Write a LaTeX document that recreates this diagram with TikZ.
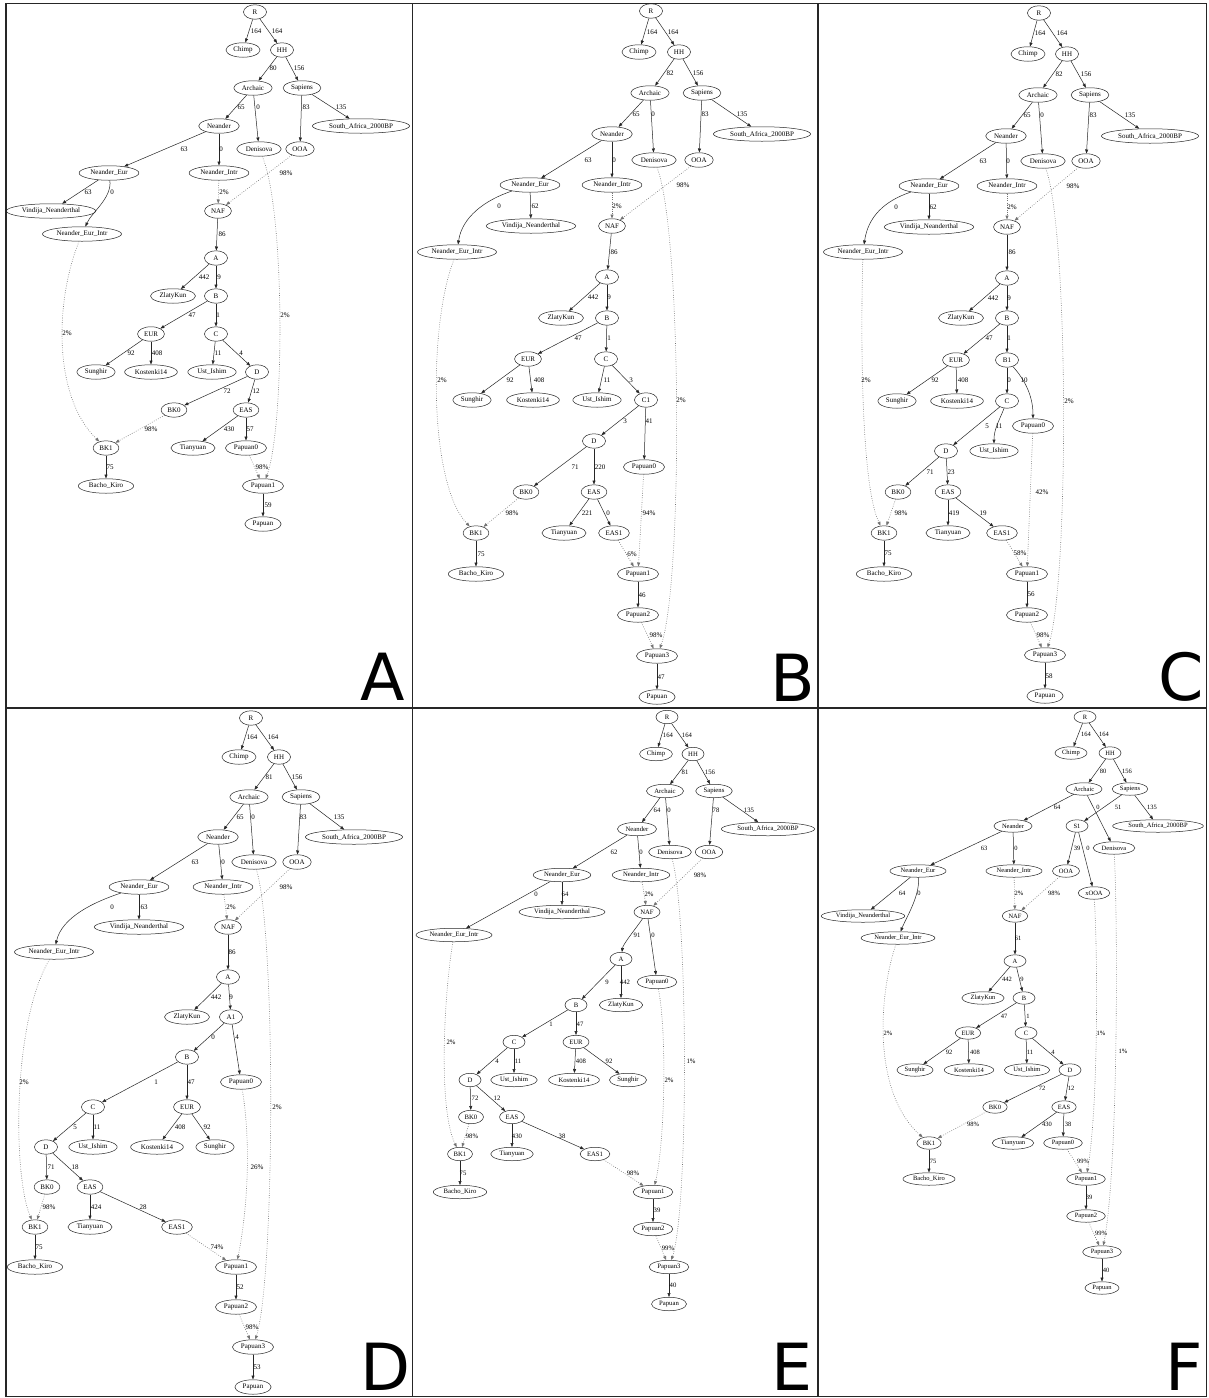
\documentclass[tikz,border=0pt]{standalone}
\usepackage{fontspec}
\setmainfont{Liberation Serif}
\newfontfamily\letfont{DejaVu Sans}
\usetikzlibrary{shapes.geometric,arrows.meta}
\newcommand\ndfont{\fontsize{7}{8}\selectfont}
\newcommand\ndmh{14.5pt}
\newcommand\ndmw{23pt}
\newcommand\gnode[3]{\node[gnd] (#1) at (#2) {#3};}
\newcommand\gedge[4]{\draw[gedg] (#1) -- (#2) node[glbl] at (#3) {#4};}
\newcommand\gdot[4]{\draw[gdt] (#1) -- (#2) node[glbl] at (#3) {#4};}
\newcommand\gcedge[5]{\draw[gedg] (#1) .. controls #5 .. (#2) node[glbl] at (#3) {#4};}
\newcommand\gcdot[5]{\draw[gdt] (#1) .. controls #5 .. (#2) node[glbl] at (#3) {#4};}
\tikzset{
  gnd/.style={draw=black!85, ellipse, line width=0.5pt, minimum width=\ndmw, minimum height=\ndmh,
    inner xsep=2.5pt, inner ysep=0.5pt, font=\ndfont},
  gedg/.style={line width=0.5pt, black!85, -{Triangle[length=4pt,width=3pt]}},
  gdt/.style={line width=0.6pt, black!55, dash pattern=on 0.7pt off 1.6pt, -{Triangle[length=4pt,width=3pt]}},
  glbl/.style={font=\ndfont, inner sep=0pt, text=black},
  frm/.style={line width=1.6pt, black!85},
  plet/.style={font=\letfont\fontsize{65}{66}\selectfont, anchor=base, inner sep=0pt, text depth=0pt, text height=47pt}
}
\begin{document}
\begin{tikzpicture}[x=1pt,y=-1pt]
\fill[white] (0,0) rectangle (1208,1398);
\useasboundingbox (0,0) rectangle (1208,1398);
% frames
\draw[frm] (6,3.5) rectangle (1206.5,1396.5);
\draw[frm] (412.5,3.5) -- (412.5,1396.5);
\draw[frm] (818,3.5) -- (818,1396.5);
\draw[frm] (6,708) -- (1206.5,708);
% panel letters
\node[plet] (LA) at (383,700) {A};
\node[plet] (LB) at (793,701) {B};
\node[plet] (LC) at (1181,700) {C};
\node[plet] (LD) at (386,1390) {D};
\node[plet] (LE) at (792,1390) {E};
\node[plet] (LF) at (1184,1390) {F};

% ================= Panel A =================
\gnode{aR}{255,12}{R}
\gnode{aChimp}{243,50}{Chimp}
\gnode{aHH}{282,50}{HH}
\gnode{aArch}{253,88}{Archaic}
\gnode{aSap}{302,88}{Sapiens}
\gnode{aNea}{219,126}{Neander}
\gnode{aSA}{361,126}{South\_Africa\_2000BP}
\gnode{aDen}{259,149}{Denisova}
\gnode{aOOA}{300,149}{OOA}
\gnode{aNE}{109,173}{Neander\_Eur}
\gnode{aNI}{219,173}{Neander\_Intr}
\gnode{aVin}{51,211}{Vindija\_Neanderthal}
\gnode{aNAF}{218,211}{NAF}
\gnode{aNEI}{82,234}{Neander\_Eur\_Intr}
\gnode{aA}{216,258}{A}
\gnode{aZK}{173,296}{ZlatyKun}
\gnode{aB}{216,296}{B}
\gnode{aEUR}{151,334}{EUR}
\gnode{aC}{216,334}{C}
\gnode{aSun}{96,372}{Sunghir}
\gnode{aKos}{151,372}{Kostenki14}
\gnode{aUst}{212,372}{Ust\_Ishim}
\gnode{aD}{257,372}{D}
\gnode{aBK0}{174,410}{BK0}
\gnode{aEAS}{246,410}{EAS}
\gnode{aBK1}{106,448}{BK1}
\gnode{aTia}{193,448}{Tianyuan}
\gnode{aP0}{246,448}{Papuan0}
\gnode{aBac}{106,486}{Bacho\_Kiro}
\gnode{aP1}{263,486}{Papuan1}
\gnode{aPap}{263,524}{Papuan}
\gedge{aR}{aChimp}{256,31}{164}
\gedge{aR}{aHH}{277,31}{164}
\gedge{aHH}{aArch}{273,68}{80}
\gedge{aHH}{aSap}{299,68}{156}
\gedge{aArch}{aNea}{241,107}{65}
\gedge{aArch}{aDen}{258,107}{0}
\gedge{aSap}{aOOA}{306,107}{83}
\gedge{aSap}{aSA}{341,107}{135}
\gedge{aNea}{aNE}{184,149}{63}
\gedge{aNea}{aNI}{221,149}{0}
\gedge{aNE}{aVin}{88,192}{63}
\gcedge{aNE}{aNEI}{112,192}{0}{+(3,25) and +(10,-22)}
\gdot{aNI}{aNAF}{224,192}{2\%}
\gdot{aOOA}{aNAF}{286,173}{98\%}
\gcdot{aDen}{aP1}{285,315}{2\%}{+(26,60) and +(22,-60)}
\gcdot{aNEI}{aBK1}{67,333}{2\%}{+(-28,70) and +(-52,-50)}
\gedge{aNAF}{aA}{222,234}{86}
\gedge{aA}{aZK}{204,277}{442}
\gedge{aA}{aB}{219,277}{9}
\gedge{aB}{aEUR}{192,315}{47}
\gedge{aB}{aC}{218,315}{1}
\gedge{aEUR}{aSun}{131,353}{92}
\gedge{aEUR}{aKos}{157,353}{408}
\gedge{aC}{aUst}{218,353}{11}
\gedge{aC}{aD}{241,353}{4}
\gedge{aD}{aBK0}{227,391}{72}
\gedge{aD}{aEAS}{256,391}{12}
\gdot{aBK0}{aBK1}{151,429}{98\%}
\gedge{aEAS}{aTia}{229,429}{430}
\gedge{aEAS}{aP0}{250,429}{57}
\gdot{aP0}{aP1}{262,467}{98\%}
\gedge{aBK1}{aBac}{110,467}{75}
\gedge{aP1}{aPap}{268,505}{59}

% ================= Panel B =================
\gnode{bR}{651,11}{R}
\gnode{bChimp}{639,52}{Chimp}
\gnode{bHH}{679,52}{HH}
\gnode{bArch}{650,93}{Archaic}
\gnode{bSap}{702,93}{Sapiens}
\gnode{bNea}{612,134}{Neander}
\gnode{bSA}{762,134}{South\_Africa\_2000BP}
\gnode{bDen}{654,160}{Denisova}
\gnode{bOOA}{699,160}{OOA}
\gnode{bNE}{530,185}{Neander\_Eur}
\gnode{bNI}{612,185}{Neander\_Intr}
\gnode{bVin}{531,226}{Vindija\_Neanderthal}
\gnode{bNAF}{612,226}{NAF}
\gnode{bNEI}{457,252}{Neander\_Eur\_Intr}
\gnode{bA}{607,277}{A}
\gnode{bZK}{561,318}{ZlatyKun}
\gnode{bB}{607,318}{B}
\gnode{bEUR}{528,359}{EUR}
\gnode{bC}{606,359}{C}
\gnode{bSun}{472,400}{Sunghir}
\gnode{bKos}{533,400}{Kostenki14}
\gnode{bUst}{597,400}{Ust\_Ishim}
\gnode{bC1}{646,400}{C1}
\gnode{bD}{594,441}{D}
\gnode{bP0}{644,467}{Papuan0}
\gnode{bBK0}{526,492}{BK0}
\gnode{bEAS}{594,492}{EAS}
\gnode{bBK1}{476,533}{BK1}
\gnode{bTia}{564,533}{Tianyuan}
\gnode{bEAS1}{614,533}{EAS1}
\gnode{bBac}{476,574}{Bacho\_Kiro}
\gnode{bP1}{638,574}{Papuan1}
\gnode{bP2}{638,615}{Papuan2}
\gnode{bP3}{657,656}{Papuan3}
\gnode{bPap}{657,697}{Papuan}
\gedge{bR}{bChimp}{652,32}{164}
\gedge{bR}{bHH}{673,32}{164}
\gedge{bHH}{bArch}{670,73}{82}
\gedge{bHH}{bSap}{698,73}{156}
\gedge{bArch}{bNea}{636,114}{65}
\gedge{bArch}{bDen}{653,114}{0}
\gedge{bSap}{bOOA}{705,114}{83}
\gedge{bSap}{bSA}{742,114}{135}
\gedge{bNea}{bNE}{588,160}{63}
\gedge{bNea}{bNI}{614,160}{0}
\gcedge{bNE}{bNEI}{499,206}{0}{+(-45,15) and +(5,-35)}
\gedge{bNE}{bVin}{535,206}{62}
\gdot{bNI}{bNAF}{617,206}{2\%}
\gdot{bOOA}{bNAF}{683,185}{98\%}
\gcdot{bDen}{bP3}{681,400}{2\%}{+(28,70) and +(26,-70)}
\gcdot{bNEI}{bBK1}{442,380}{2\%}{+(-28,70) and +(-48,-50)}
\gedge{bNAF}{bA}{614,252}{86}
\gedge{bA}{bZK}{593,297}{442}
\gedge{bA}{bB}{609,297}{9}
\gedge{bB}{bEUR}{578,338}{47}
\gedge{bB}{bC}{609,338}{1}
\gedge{bEUR}{bSun}{510,380}{92}
\gedge{bEUR}{bKos}{539,380}{408}
\gedge{bC}{bUst}{607,380}{11}
\gedge{bC}{bC1}{631,380}{3}
\gedge{bC1}{bD}{625,421}{3}
\gedge{bC1}{bP0}{649,421}{41}
\gedge{bD}{bBK0}{575,467}{71}
\gedge{bD}{bEAS}{600,467}{220}
\gdot{bBK0}{bBK1}{512,513}{98\%}
\gedge{bEAS}{bTia}{587,513}{221}
\gedge{bEAS}{bEAS1}{608,513}{0}
\gdot{bP0}{bP1}{649,513}{94\%}
\gedge{bBK1}{bBac}{481,554}{75}
\gdot{bEAS1}{bP1}{632,554}{6\%}
\gedge{bP1}{bP2}{642,595}{46}
\gdot{bP2}{bP3}{656,635}{98\%}
\gedge{bP3}{bPap}{661,677}{47}

% ================= Panel C =================
\gnode{cR}{1039,13}{R}
\gnode{cChimp}{1028,54}{Chimp}
\gnode{cHH}{1067,54}{HH}
\gnode{cArch}{1038,95}{Archaic}
\gnode{cSap}{1090,95}{Sapiens}
\gnode{cNea}{1006,136}{Neander}
\gnode{cSA}{1150,136}{South\_Africa\_2000BP}
\gnode{cDen}{1043,161}{Denisova}
\gnode{cOOA}{1086,161}{OOA}
\gnode{cNE}{929,186}{Neander\_Eur}
\gnode{cNI}{1007,186}{Neander\_Intr}
\gnode{cVin}{929,227}{Vindija\_Neanderthal}
\gnode{cNAF}{1007,227}{NAF}
\gnode{cNEI}{863,252}{Neander\_Eur\_Intr}
\gnode{cA}{1007,278}{A}
\gnode{cZK}{961,318}{ZlatyKun}
\gnode{cB}{1007,318}{B}
\gnode{cEUR}{956,360}{EUR}
\gnode{cB1}{1007,360}{B1}
\gnode{cSun}{897,401}{Sunghir}
\gnode{cKos}{957,401}{Kostenki14}
\gnode{cC}{1007,401}{C}
\gnode{cP0}{1033,426}{Papuan0}
\gnode{cD}{946,451}{D}
\gnode{cUst}{994,451}{Ust\_Ishim}
\gnode{cBK0}{898,492}{BK0}
\gnode{cEAS}{948,492}{EAS}
\gnode{cBK1}{884,533}{BK1}
\gnode{cTia}{948,533}{Tianyuan}
\gnode{cEAS1}{1002,533}{EAS1}
\gnode{cBac}{884,574}{Bacho\_Kiro}
\gnode{cP1}{1027,574}{Papuan1}
\gnode{cP2}{1027,615}{Papuan2}
\gnode{cP3}{1045,655}{Papuan3}
\gnode{cPap}{1045,696}{Papuan}
\gedge{cR}{cChimp}{1040,33}{164}
\gedge{cR}{cHH}{1062,33}{164}
\gedge{cHH}{cArch}{1059,74}{82}
\gedge{cHH}{cSap}{1086,74}{156}
\gedge{cArch}{cNea}{1027,115}{65}
\gedge{cArch}{cDen}{1042,115}{0}
\gedge{cSap}{cOOA}{1093,115}{83}
\gedge{cSap}{cSA}{1130,115}{135}
\gedge{cNea}{cNE}{983,161}{63}
\gedge{cNea}{cNI}{1008,161}{0}
\gcedge{cNE}{cNEI}{896,207}{0}{+(-45,15) and +(5,-35)}
\gedge{cNE}{cVin}{933,207}{62}
\gdot{cNI}{cNAF}{1012,207}{2\%}
\gdot{cOOA}{cNAF}{1073,186}{98\%}
\gcdot{cDen}{cP3}{1069,401}{2\%}{+(26,70) and +(24,-70)}
\gcdot{cNEI}{cBK1}{866,380}{2\%}{+(-2,70) and +(-24,-50)}
\gedge{cNAF}{cA}{1012,252}{86}
\gedge{cA}{cZK}{993,298}{442}
\gedge{cA}{cB}{1009,298}{9}
\gedge{cB}{cEUR}{989,338}{47}
\gedge{cB}{cB1}{1009,338}{1}
\gedge{cEUR}{cSun}{935,380}{92}
\gedge{cEUR}{cKos}{963,380}{408}
\gedge{cB1}{cC}{1009,380}{0}
\gcedge{cB1}{cP0}{1024,380}{10}{+(18,20) and +(0,-30)}
\gedge{cC}{cD}{987,426}{5}
\gcedge{cC}{cUst}{999,426}{11}{+(-8,20) and +(0,-22)}
\gedge{cD}{cBK0}{930,472}{71}
\gedge{cD}{cEAS}{951,472}{23}
\gdot{cBK0}{cBK1}{901,513}{98\%}
\gedge{cEAS}{cTia}{954,513}{419}
\gedge{cEAS}{cEAS1}{983,513}{19}
\gdot{cP0}{cP1}{1042,492}{42\%}
\gedge{cBK1}{cBac}{888,553}{75}
\gdot{cEAS1}{cP1}{1020,553}{58\%}
\gedge{cP1}{cP2}{1031,594}{56}
\gdot{cP2}{cP3}{1043,635}{98\%}
\gedge{cP3}{cPap}{1049,676}{58}

% ================= Panel D =================
\gnode{dR}{251,718}{R}
\gnode{dChimp}{239,757}{Chimp}
\gnode{dHH}{279,757}{HH}
\gnode{dArch}{249,797}{Archaic}
\gnode{dSap}{301,797}{Sapiens}
\gnode{dNea}{218,837}{Neander}
\gnode{dSA}{354,837}{South\_Africa\_2000BP}
\gnode{dDen}{254,862}{Denisova}
\gnode{dOOA}{297,862}{OOA}
\gnode{dNE}{139,887}{Neander\_Eur}
\gnode{dNI}{223,887}{Neander\_Intr}
\gnode{dVin}{139,927}{Vindija\_Neanderthal}
\gnode{dNAF}{228,927}{NAF}
\gnode{dNEI}{54,952}{Neander\_Eur\_Intr}
\gnode{dA}{228,977}{A}
\gnode{dZK}{187,1017}{ZlatyKun}
\gnode{dA1}{231,1017}{A1}
\gnode{dB}{187,1057}{B}
\gnode{dP0}{241,1082}{Papuan0}
\gnode{dC}{93,1107}{C}
\gnode{dEUR}{187,1107}{EUR}
\gnode{dD}{46,1147}{D}
\gnode{dUst}{93,1147}{Ust\_Ishim}
\gnode{dKos}{157,1147}{Kostenki14}
\gnode{dSun}{215,1147}{Sunghir}
\gnode{dBK0}{47,1187}{BK0}
\gnode{dEAS}{90,1187}{EAS}
\gnode{dBK1}{35,1227}{BK1}
\gnode{dTia}{90,1227}{Tianyuan}
\gnode{dEAS1}{177,1227}{EAS1}
\gnode{dBac}{35,1267}{Bacho\_Kiro}
\gnode{dP1}{236,1267}{Papuan1}
\gnode{dP2}{236,1307}{Papuan2}
\gnode{dP3}{253,1347}{Papuan3}
\gnode{dPap}{253,1387}{Papuan}
\gedge{dR}{dChimp}{252,737}{164}
\gedge{dR}{dHH}{273,737}{164}
\gedge{dHH}{dArch}{269,777}{81}
\gedge{dHH}{dSap}{297,777}{156}
\gedge{dArch}{dNea}{240,817}{65}
\gedge{dArch}{dDen}{253,817}{0}
\gedge{dSap}{dOOA}{303,817}{83}
\gedge{dSap}{dSA}{339,817}{135}
\gedge{dNea}{dNE}{195,862}{63}
\gedge{dNea}{dNI}{223,862}{0}
\gcedge{dNE}{dNEI}{112,907}{0}{+(-45,15) and +(8,-35)}
\gedge{dNE}{dVin}{144,907}{63}
\gdot{dNI}{dNAF}{231,907}{2\%}
\gdot{dOOA}{dNAF}{286,887}{98\%}
\gcdot{dDen}{dP3}{277,1107}{2\%}{+(22,70) and +(22,-70)}
\gcdot{dNEI}{dBK1}{24,1082}{2\%}{+(-42,70) and +(-22,-50)}
\gedge{dNAF}{dA}{232,952}{86}
\gedge{dA}{dZK}{216,997}{442}
\gedge{dA}{dA1}{231,997}{9}
\gedge{dA1}{dB}{213,1037}{0}
\gedge{dA1}{dP0}{237,1037}{4}
\gedge{dB}{dC}{156,1082}{1}
\gedge{dB}{dEUR}{191,1082}{47}
\gcdot{dP0}{dP1}{257,1167}{26\%}{+(10,60) and +(12,-60)}
\gedge{dC}{dD}{75,1127}{5}
\gedge{dC}{dUst}{97,1127}{11}
\gedge{dEUR}{dKos}{180,1127}{408}
\gedge{dEUR}{dSun}{207,1127}{92}
\gedge{dD}{dBK0}{51,1167}{71}
\gedge{dD}{dEAS}{75,1167}{18}
\gdot{dBK0}{dBK1}{49,1207}{98\%}
\gedge{dEAS}{dTia}{96,1207}{424}
\gedge{dEAS}{dEAS1}{143,1207}{28}
\gedge{dBK1}{dBac}{39,1247}{75}
\gdot{dEAS1}{dP1}{217,1247}{74\%}
\gedge{dP1}{dP2}{240,1287}{52}
\gdot{dP2}{dP3}{252,1327}{98\%}
\gedge{dP3}{dPap}{257,1367}{53}

% ================= Panel E =================
\renewcommand\ndfont{\fontsize{6.7}{7.5}\selectfont}
\renewcommand\ndmh{13.5pt}
\renewcommand\ndmw{22pt}
\gnode{eR}{667,717}{R}
\gnode{eChimp}{656,754}{Chimp}
\gnode{eHH}{693,754}{HH}
\gnode{eArch}{665,791}{Archaic}
\gnode{eSap}{714,791}{Sapiens}
\gnode{eNea}{637,829}{Neander}
\gnode{eSA}{768,829}{South\_Africa\_2000BP}
\gnode{eDen}{670,852}{Denisova}
\gnode{eOOA}{709,852}{OOA}
\gnode{eNE}{562,875}{Neander\_Eur}
\gnode{eNI}{641,875}{Neander\_Intr}
\gnode{eVin}{562,912}{Vindija\_Neanderthal}
\gnode{eNAF}{647,912}{NAF}
\gnode{eNEI}{454,935}{Neander\_Eur\_Intr}
\gnode{eA}{621,959}{A}
\gnode{eP0}{657,982}{Papuan0}
\gnode{eB}{576,1005}{B}
\gnode{eZK}{621,1005}{ZlatyKun}
\gnode{eC}{514,1042}{C}
\gnode{eEUR}{576,1042}{EUR}
\gnode{eD}{470,1080}{D}
\gnode{eUst}{514,1080}{Ust\_Ishim}
\gnode{eKos}{574,1080}{Kostenki14}
\gnode{eSun}{628,1080}{Sunghir}
\gnode{eBK0}{471,1117}{BK0}
\gnode{eEAS}{512,1117}{EAS}
\gnode{eBK1}{460,1154}{BK1}
\gnode{eTia}{512,1154}{Tianyuan}
\gnode{eEAS1}{595,1154}{EAS1}
\gnode{eBac}{460,1192}{Bacho\_Kiro}
\gnode{eP1}{653,1192}{Papuan1}
\gnode{eP2}{653,1229}{Papuan2}
\gnode{eP3}{669,1267}{Papuan3}
\gnode{ePap}{669,1304}{Papuan}
\gedge{eR}{eChimp}{668,735}{164}
\gedge{eR}{eHH}{687,735}{164}
\gedge{eHH}{eArch}{685,772}{81}
\gedge{eHH}{eSap}{710,772}{156}
\gedge{eArch}{eNea}{657,810}{64}
\gedge{eArch}{eDen}{669,810}{0}
\gedge{eSap}{eOOA}{716,810}{78}
\gedge{eSap}{eSA}{749,810}{135}
\gedge{eNea}{eNE}{614,852}{62}
\gedge{eNea}{eNI}{641,852}{0}
\gedge{eNE}{eNEI}{536,894}{0}
\gedge{eNE}{eVin}{565,894}{64}
\gdot{eNI}{eNAF}{649,894}{2\%}
\gdot{eOOA}{eNAF}{700,875}{98\%}
\gcdot{eDen}{eP3}{691,1061}{1\%}{+(18,60) and +(20,-60)}
\gcdot{eNEI}{eBK1}{451,1042}{2\%}{+(-10,60) and +(-22,-45)}
\gcedge{eNAF}{eA}{637,935}{91}{+(-10,15) and +(2,-15)}
\gedge{eNAF}{eP0}{653,935}{0}
\gedge{eA}{eB}{607,982}{9}
\gedge{eA}{eZK}{625,982}{442}
\gcdot{eP0}{eP1}{669,1080}{2\%}{+(10,50) and +(12,-50)}
\gedge{eB}{eC}{551,1024}{1}
\gedge{eB}{eEUR}{580,1024}{47}
\gedge{eC}{eD}{497,1061}{4}
\gedge{eC}{eUst}{518,1061}{11}
\gedge{eEUR}{eKos}{581,1061}{408}
\gedge{eEUR}{eSun}{609,1061}{92}
\gedge{eD}{eBK0}{475,1098}{72}
\gedge{eD}{eEAS}{497,1098}{12}
\gdot{eBK0}{eBK1}{472,1136}{98\%}
\gedge{eEAS}{eTia}{517,1136}{430}
\gedge{eEAS}{eEAS1}{562,1136}{38}
\gedge{eBK1}{eBac}{463,1173}{75}
\gdot{eEAS1}{eP1}{633,1173}{98\%}
\gedge{eP1}{eP2}{657,1210}{39}
\gdot{eP2}{eP3}{668,1248}{99\%}
\gedge{eP3}{ePap}{673,1285}{40}

% ================= Panel F =================
\renewcommand\ndfont{\fontsize{6.5}{7.5}\selectfont}
\renewcommand\ndmh{12.5pt}
\renewcommand\ndmw{22pt}
\gnode{fR}{1085,717}{R}
\gnode{fChimp}{1071,753}{Chimp}
\gnode{fHH}{1110,753}{HH}
\gnode{fArch}{1084,789}{Archaic}
\gnode{fSap}{1130,789}{Sapiens}
\gnode{fNea}{1013,826}{Neander}
\gnode{fS1}{1077,826}{S1}
\gnode{fSA}{1158,826}{South\_Africa\_2000BP}
\gnode{fDen}{1114,848}{Denisova}
\gnode{fNE}{918,871}{Neander\_Eur}
\gnode{fNI}{1014,871}{Neander\_Intr}
\gnode{fOOA}{1066,871}{OOA}
\gnode{fxOOA}{1094,893}{xOOA}
\gnode{fVin}{863,916}{Vindija\_Neanderthal}
\gnode{fNAF}{1015,916}{NAF}
\gnode{fNEI}{898,938}{Neander\_Eur\_Intr}
\gnode{fA}{1015,961}{A}
\gnode{fZK}{983,998}{ZlatyKun}
\gnode{fB}{1024,998}{B}
\gnode{fEUR}{968,1033}{EUR}
\gnode{fC}{1026,1033}{C}
\gnode{fSun}{915,1070}{Sunghir}
\gnode{fKos}{969,1070}{Kostenki14}
\gnode{fUst}{1027,1070}{Ust\_Ishim}
\gnode{fD}{1070,1070}{D}
\gnode{fBK0}{995,1107}{BK0}
\gnode{fEAS}{1064,1107}{EAS}
\gnode{fBK1}{929,1143}{BK1}
\gnode{fTia}{1013,1143}{Tianyuan}
\gnode{fP0}{1063,1143}{Papuan0}
\gnode{fBac}{929,1179}{Bacho\_Kiro}
\gnode{fP1}{1086,1179}{Papuan1}
\gnode{fP2}{1086,1216}{Papuan2}
\gnode{fP3}{1102,1252}{Papuan3}
\gnode{fPap}{1102,1288}{Papuan}
\gedge{fR}{fChimp}{1086,734}{164}
\gedge{fR}{fHH}{1104,734}{164}
\gedge{fHH}{fArch}{1103,771}{80}
\gedge{fHH}{fSap}{1127,771}{156}
\gedge{fArch}{fNea}{1057,807}{64}
\gedge{fArch}{fDen}{1098,807}{0}
\gedge{fSap}{fS1}{1118,807}{51}
\gedge{fSap}{fSA}{1152,807}{135}
\gedge{fNea}{fNE}{984,848}{63}
\gedge{fNea}{fNI}{1016,848}{0}
\gedge{fS1}{fOOA}{1077,848}{39}
\gedge{fS1}{fxOOA}{1088,848}{0}
\gedge{fNE}{fVin}{902,893}{64}
\gcedge{fNE}{fNEI}{919,893}{0}{+(2,25) and +(8,-20)}
\gdot{fNI}{fNAF}{1019,893}{2\%}
\gdot{fOOA}{fNAF}{1054,893}{98\%}
\gcdot{fxOOA}{fP1}{1101,1033}{1\%}{+(4,70) and +(12,-70)}
\gcdot{fDen}{fP3}{1123,1051}{1\%}{+(4,80) and +(16,-80)}
\gcdot{fNEI}{fBK1}{888,1033}{2\%}{+(-20,60) and +(-56,-50)}
\gedge{fNAF}{fA}{1018,938}{61}
\gedge{fA}{fZK}{1007,979}{442}
\gedge{fA}{fB}{1022,979}{9}
\gedge{fB}{fEUR}{1004,1016}{47}
\gedge{fB}{fC}{1028,1016}{1}
\gedge{fEUR}{fSun}{949,1052}{92}
\gedge{fEUR}{fKos}{975,1052}{408}
\gedge{fC}{fUst}{1030,1052}{11}
\gedge{fC}{fD}{1053,1052}{4}
\gedge{fD}{fBK0}{1042,1088}{72}
\gedge{fD}{fEAS}{1071,1088}{12}
\gdot{fBK0}{fBK1}{973,1124}{98\%}
\gedge{fEAS}{fTia}{1047,1124}{430}
\gedge{fEAS}{fP0}{1068,1124}{38}
\gedge{fBK1}{fBac}{933,1161}{75}
\gdot{fP0}{fP1}{1083,1161}{99\%}
\gedge{fP1}{fP2}{1089,1197}{39}
\gdot{fP2}{fP3}{1101,1233}{99\%}
\gedge{fP3}{fPap}{1106,1270}{40}
\end{tikzpicture}
\end{document}
